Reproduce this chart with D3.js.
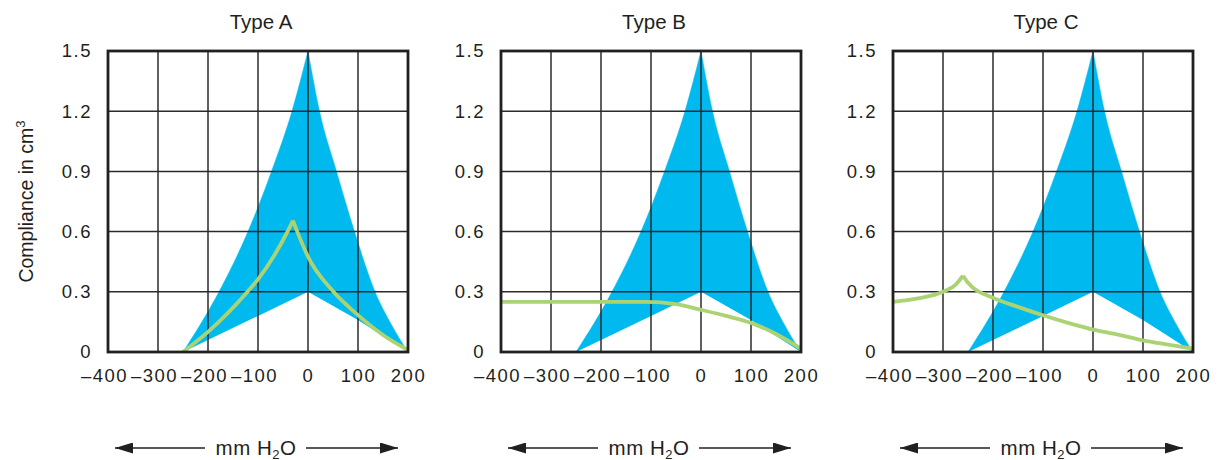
<!DOCTYPE html>
<html><head><meta charset="utf-8">
<script src="https://cdn.jsdelivr.net/npm/d3@7"></script>
<style>
body{margin:0;background:#fff}
svg{display:block}
text{font-family:"Liberation Sans",Arial,Helvetica,sans-serif;fill:#231f20}
</style>
</head><body>
<svg id="chart" width="1217" height="460"></svg>
<script>
// ---- data ----
const categories = ["Type A", "Type B", "Type C"];
const xTicks = [-400, -300, -200, -100, 0, 100, 200];
const yTicks = [0, 0.3, 0.6, 0.9, 1.2, 1.5];
const yTitle = "Compliance in cm";
const unitLabel = "mm H";

// normal range envelope (same in all panels)
const envUpperLeft  = [[-250,0],[-178,0.3],[-120,0.6],[-73,0.9],[-32,1.2],[0,1.5]];
const envUpperRight = [[0,1.5],[23,1.2],[57,0.9],[93,0.6],[134,0.3],[166,0.14],[200,0]];
const envLowerLeft  = [[-250,0],[-100,0.18],[0,0.3]];
const envLowerRight = [[0,0.3],[100,0.16],[200,0]];

// measured curves, split at cusps
const typeA = [
  [[-250,0],[-200,0.1],[-121,0.3],[-100,0.362],[-41,0.6],[-30,0.655]],
  [[-30,0.655],[-15,0.56],[0,0.475],[51,0.3],[100,0.184],[150,0.085],[200,0.01]]
];
const typeB = [
  [[-400,0.25],[-300,0.25],[-200,0.25],[-110,0.25],[-50,0.238],[0,0.21],[50,0.18],[100,0.145],[150,0.09],[200,0.017]]
];
const typeC = [
  [[-400,0.25],[-350,0.267],[-300,0.3],[-275,0.335],[-260,0.38]],
  [[-260,0.38],[-250,0.345],[-200,0.27],[-150,0.225],[-100,0.183],[-50,0.145],[0,0.112],[50,0.087],[100,0.058],[150,0.037],[200,0.017]]
];
const series = [typeA, typeB, typeC];

// ---- layout ----
const svg = d3.select("#chart");
const W = 300, H = 301, plotTop = 51;
const lefts = [108, 501, 893];
const blue = "#00b9ef", green = "#abd373", ink = "#231f20";

const defs = svg.append("defs");
defs.append("marker").attr("id","ah")
  .attr("viewBox","0 0 18 11").attr("refX",18).attr("refY",5.5)
  .attr("markerWidth",18).attr("markerHeight",11)
  .attr("markerUnits","userSpaceOnUse").attr("orient","auto")
  .append("path").attr("d","M0,0L18,5.5L0,11Z").attr("fill",ink);

const fmtX = v => v < 0 ? "\u2013" + Math.abs(v) : String(v);
const fmtY = v => v === 0 ? "0" : v.toFixed(1);

categories.forEach((cat, i) => {
  const L = lefts[i];
  const x = d3.scaleLinear().domain([-400, 200]).range([L, L + W]);
  const y = d3.scaleLinear().domain([0, 1.5]).range([plotTop + H, plotTop]);
  const g = svg.append("g");

  const area = d3.area().x(d => x(d[0])).y0(y(0)).y1(d => y(d[1])).curve(d3.curveMonotoneX);
  const line = d3.line().x(d => x(d[0])).y(d => y(d[1])).curve(d3.curveMonotoneX);

  // envelope: area under upper boundary, minus area under lower boundary
  [envUpperLeft, envUpperRight].forEach(e =>
    g.append("path").attr("d", area(e)).attr("fill", blue).attr("stroke", blue).attr("stroke-width", 0.5));
  [envLowerLeft, envLowerRight].forEach(e =>
    g.append("path").attr("d", area.curve(d3.curveLinear)(e)).attr("fill", "#fff"));
  area.curve(d3.curveMonotoneX);

  // grid
  g.selectAll(".vg").data(xTicks.slice(1, -1)).join("line")
    .attr("x1", d => x(d)).attr("x2", d => x(d)).attr("y1", y(0)).attr("y2", y(1.5))
    .attr("stroke", "#2b2b2b").attr("stroke-width", 1.5);
  g.selectAll(".hg").data(yTicks.slice(1, -1)).join("line")
    .attr("y1", d => y(d)).attr("y2", d => y(d)).attr("x1", x(-400)).attr("x2", x(200))
    .attr("stroke", "#2b2b2b").attr("stroke-width", 1.5);

  // measured curve
  series[i].forEach(s => {
    g.append("path").attr("d", line(s))
      .attr("fill", "none").attr("stroke", green).attr("stroke-width", 3.8)
      .attr("stroke-linecap", "butt");
  });

  // frame
  g.append("rect").attr("x", x(-400)).attr("y", y(1.5))
    .attr("width", x(200) - x(-400)).attr("height", y(0) - y(1.5))
    .attr("fill", "none").attr("stroke", ink).attr("stroke-width", 2.8);

  // axes labels
  const ya = g.append("g").attr("transform", `translate(${L},0)`)
    .call(d3.axisLeft(y).tickValues(yTicks).tickSize(0).tickPadding(16).tickFormat(fmtY));
  const xa = g.append("g").attr("transform", `translate(0,${plotTop + H})`)
    .call(d3.axisBottom(x).tickValues(xTicks).tickSize(0).tickPadding(17).tickFormat(fmtX));
  [ya, xa].forEach(a => {
    a.select(".domain").remove();
    a.selectAll("text").attr("font-size", 18.5).attr("letter-spacing", 1.5)
      .attr("font-family", '"Liberation Sans", Arial, sans-serif').attr("fill", ink);
  });
  xa.selectAll("text").attr("dx", d => d < 0 ? -4 : 0);

  // title
  g.append("text").attr("x", L + W / 2 + 3).attr("y", 29)
    .attr("text-anchor", "middle").attr("font-size", 20.5).text(cat);

  // unit arrows
  const cx = L + W / 2;
  g.append("line").attr("x1", cx - 53).attr("x2", L + 7).attr("y1", 448).attr("y2", 448)
    .attr("stroke", ink).attr("stroke-width", 1.6).attr("marker-end", "url(#ah)");
  g.append("line").attr("x1", cx + 48).attr("x2", L + W - 10).attr("y1", 448).attr("y2", 448)
    .attr("stroke", ink).attr("stroke-width", 1.6).attr("marker-end", "url(#ah)");
  const ut = g.append("text").attr("x", cx - 2).attr("y", 455)
    .attr("text-anchor", "middle").attr("font-size", 20.5).attr("letter-spacing", 0.5);
  ut.append("tspan").text(unitLabel);
  ut.append("tspan").attr("font-size", 13).attr("dy", 3.5).text("2");
  ut.append("tspan").attr("dy", -3.5).text("O");
});

// y title
const yt = svg.append("text").attr("transform", "translate(33,201.5) rotate(-90)")
  .attr("text-anchor", "middle").attr("font-size", 19.5);
yt.append("tspan").text(yTitle);
yt.append("tspan").attr("font-size", 13).attr("dy", -8).text("3");
</script>
</body></html>
